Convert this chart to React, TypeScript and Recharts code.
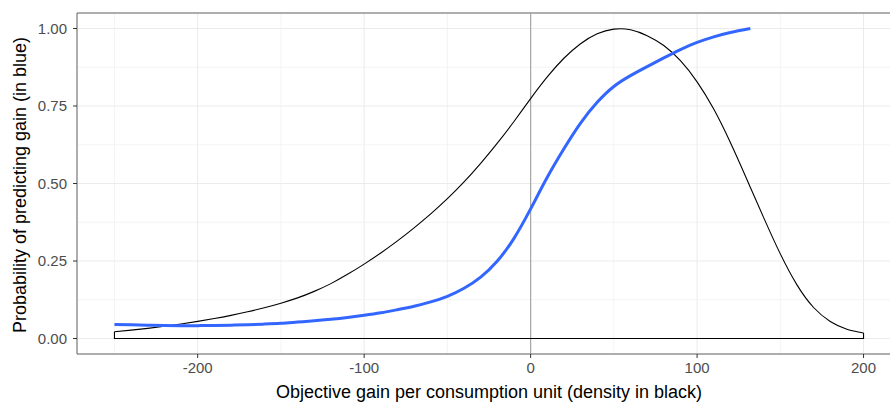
import {
  CartesianGrid,
  Line,
  LineChart,
  ReferenceLine,
  XAxis,
  YAxis,
} from 'recharts'

// density of the objective gain, scaled so its peak is 1 (black outline)
const densityX = [
  -250, -240, -230, -220, -210, -200, -190, -180, -170, -160, -150, -140, -130, -120, -110, -100,
  -90, -80, -70, -60, -50, -40, -30, -20, -10, 0, 10, 20, 30, 40, 50, 60, 70, 80, 90, 100, 110,
  120, 130, 140, 150, 160, 170, 180, 190, 200,
]
const densityY = [
  0.022, 0.027, 0.0328, 0.0394, 0.0468, 0.0552, 0.0644, 0.0747, 0.0862, 0.0992, 0.114, 0.131,
  0.152, 0.177, 0.207, 0.24, 0.276, 0.315, 0.357, 0.402, 0.451, 0.505, 0.565, 0.63, 0.7, 0.774,
  0.844, 0.904, 0.951, 0.983, 0.998, 0.996, 0.977, 0.945, 0.896, 0.828, 0.74, 0.632, 0.512, 0.39,
  0.273, 0.173, 0.1, 0.055, 0.03, 0.018,
]

// smoothed probability of predicting a gain (blue)
const probX = [
  -250, -240, -230, -220, -210, -200, -190, -180, -170, -160, -150, -140, -130, -120, -110, -100,
  -90, -80, -70, -60, -50, -40, -30, -20, -10, 0, 10, 20, 30, 40, 50, 60, 70, 80, 90, 100, 110,
  120, 132,
]
const probY = [
  0.045, 0.044, 0.043, 0.042, 0.0415, 0.0415, 0.042, 0.043, 0.0445, 0.0465, 0.049, 0.053, 0.057,
  0.062, 0.068, 0.075, 0.083, 0.093, 0.104, 0.118, 0.136, 0.162, 0.198, 0.25, 0.323, 0.418, 0.52,
  0.612, 0.695, 0.762, 0.813, 0.848, 0.877, 0.905, 0.932, 0.955, 0.973, 0.987, 1.0,
]

const xTicks = [-200, -100, 0, 100, 200]
const xMinor = [-250, -150, -50, 50, 150]
const yTicks = [0, 0.25, 0.5, 0.75, 1]
const yMinor = [0.125, 0.375, 0.625, 0.875]

const xTitle = 'Objective gain per consumption unit (density in black)'
const yTitle = 'Probability of predicting gain (in blue)'

const densityData = densityX.map((x, i) => ({ x, y: densityY[i] }))
const probData = probX.map((x, i) => ({ x, y: probY[i] }))
// bottom and sides of the density outline
const densityBase = [
  { x: densityX[0], y: densityY[0] },
  { x: densityX[0], y: 0 },
  { x: densityX[densityX.length - 1], y: 0 },
  { x: densityX[densityX.length - 1], y: densityY[densityY.length - 1] },
]

const font = '"Liberation Sans", Arial, sans-serif'
const tickStyle = { fill: '#4d4d4d', fontSize: 15, fontFamily: font }

export default function App() {
  return (
    <div style={{ position: 'absolute', left: 0, top: 0, width: 890, height: 402, overflow: 'hidden', background: '#fff' }}>
      <LineChart width={905} height={402} margin={{ top: 13, right: 4, bottom: 0, left: 0 }}>
        <CartesianGrid stroke="#ebebeb" strokeWidth={1} />
        {xMinor.map((v) => (
          <ReferenceLine key={'xm' + v} x={v} stroke="#efefef" strokeWidth={0.7} />
        ))}
        {yMinor.map((v) => (
          <ReferenceLine key={'ym' + v} y={v} stroke="#efefef" strokeWidth={0.7} />
        ))}
        <XAxis
          type="number"
          dataKey="x"
          domain={[-272.5, 222.5]}
          ticks={xTicks}
          allowDataOverflow
          height={48}
          tickSize={4}
          tickMargin={4}
          stroke="#333"
          axisLine={{ stroke: '#666' }}
          tick={tickStyle}
          label={{
            content: () => (
              <text x={489} y={398} textAnchor="middle" fontSize={18} fontFamily={font} fill="#000">
                {xTitle}
              </text>
            ),
          }}
        />
        <YAxis
          type="number"
          dataKey="y"
          domain={[-0.05, 1.05]}
          ticks={yTicks}
          allowDataOverflow
          width={77}
          tickSize={4}
          tickMargin={6}
          stroke="#333"
          axisLine={{ stroke: '#666' }}
          tick={tickStyle}
          tickFormatter={(v: number) => v.toFixed(2)}
          label={{
            content: () => (
              <text
                x={0}
                y={0}
                transform="translate(26,185) rotate(-90)"
                textAnchor="middle"
                fontSize={18}
                fontFamily={font}
                fill="#000"
              >
                {yTitle}
              </text>
            ),
          }}
        />
        <ReferenceLine y={1.05} stroke="#666" strokeWidth={1} />
        <ReferenceLine x={0} stroke="#a6a6a6" strokeWidth={1.2} />
        <Line
          data={densityBase}
          dataKey="y"
          type="linear"
          stroke="#000"
          strokeWidth={1.1}
          dot={false}
          isAnimationActive={false}
        />
        <Line
          data={densityData}
          dataKey="y"
          type="natural"
          stroke="#000"
          strokeWidth={1.1}
          dot={false}
          isAnimationActive={false}
        />
        <Line
          data={probData}
          dataKey="y"
          type="natural"
          stroke="#3366ff"
          strokeWidth={3}
          dot={false}
          isAnimationActive={false}
        />
      </LineChart>
    </div>
  )
}
